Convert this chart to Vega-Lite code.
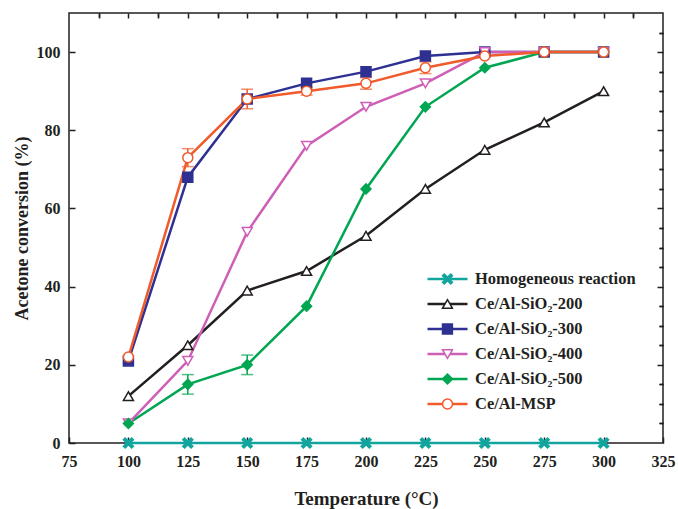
{
  "$schema": "https://vega.github.io/schema/vega-lite/v6.json",
  "width": 594,
  "height": 430,
  "autosize": {"type": "none"},
  "padding": {"left": 69, "top": 13, "right": 15, "bottom": 66},
  "background": "white",
  "datasets": {
    "conv": [
      {"series": "Homogeneous reaction", "t": 100, "v": 0},
      {"series": "Homogeneous reaction", "t": 125, "v": 0},
      {"series": "Homogeneous reaction", "t": 150, "v": 0},
      {"series": "Homogeneous reaction", "t": 175, "v": 0},
      {"series": "Homogeneous reaction", "t": 200, "v": 0},
      {"series": "Homogeneous reaction", "t": 225, "v": 0},
      {"series": "Homogeneous reaction", "t": 250, "v": 0},
      {"series": "Homogeneous reaction", "t": 275, "v": 0},
      {"series": "Homogeneous reaction", "t": 300, "v": 0},
      {"series": "Ce/Al-SiO₂-200", "t": 100, "v": 12},
      {"series": "Ce/Al-SiO₂-200", "t": 125, "v": 25},
      {"series": "Ce/Al-SiO₂-200", "t": 150, "v": 39},
      {"series": "Ce/Al-SiO₂-200", "t": 175, "v": 44},
      {"series": "Ce/Al-SiO₂-200", "t": 200, "v": 53},
      {"series": "Ce/Al-SiO₂-200", "t": 225, "v": 65},
      {"series": "Ce/Al-SiO₂-200", "t": 250, "v": 75},
      {"series": "Ce/Al-SiO₂-200", "t": 275, "v": 82},
      {"series": "Ce/Al-SiO₂-200", "t": 300, "v": 90},
      {"series": "Ce/Al-SiO₂-300", "t": 100, "v": 21},
      {"series": "Ce/Al-SiO₂-300", "t": 125, "v": 68},
      {"series": "Ce/Al-SiO₂-300", "t": 150, "v": 88},
      {"series": "Ce/Al-SiO₂-300", "t": 175, "v": 92},
      {"series": "Ce/Al-SiO₂-300", "t": 200, "v": 95},
      {"series": "Ce/Al-SiO₂-300", "t": 225, "v": 99},
      {"series": "Ce/Al-SiO₂-300", "t": 250, "v": 100},
      {"series": "Ce/Al-SiO₂-300", "t": 275, "v": 100},
      {"series": "Ce/Al-SiO₂-300", "t": 300, "v": 100},
      {"series": "Ce/Al-SiO₂-400", "t": 100, "v": 5},
      {"series": "Ce/Al-SiO₂-400", "t": 125, "v": 21},
      {"series": "Ce/Al-SiO₂-400", "t": 150, "v": 54},
      {"series": "Ce/Al-SiO₂-400", "t": 175, "v": 76},
      {"series": "Ce/Al-SiO₂-400", "t": 200, "v": 86},
      {"series": "Ce/Al-SiO₂-400", "t": 225, "v": 92},
      {"series": "Ce/Al-SiO₂-400", "t": 250, "v": 100},
      {"series": "Ce/Al-SiO₂-400", "t": 275, "v": 100},
      {"series": "Ce/Al-SiO₂-400", "t": 300, "v": 100},
      {"series": "Ce/Al-SiO₂-500", "t": 100, "v": 5},
      {"series": "Ce/Al-SiO₂-500", "t": 125, "v": 15},
      {"series": "Ce/Al-SiO₂-500", "t": 150, "v": 20},
      {"series": "Ce/Al-SiO₂-500", "t": 175, "v": 35},
      {"series": "Ce/Al-SiO₂-500", "t": 200, "v": 65},
      {"series": "Ce/Al-SiO₂-500", "t": 225, "v": 86},
      {"series": "Ce/Al-SiO₂-500", "t": 250, "v": 96},
      {"series": "Ce/Al-SiO₂-500", "t": 275, "v": 100},
      {"series": "Ce/Al-SiO₂-500", "t": 300, "v": 100},
      {"series": "Ce/Al-MSP", "t": 100, "v": 22},
      {"series": "Ce/Al-MSP", "t": 125, "v": 73},
      {"series": "Ce/Al-MSP", "t": 150, "v": 88},
      {"series": "Ce/Al-MSP", "t": 175, "v": 90},
      {"series": "Ce/Al-MSP", "t": 200, "v": 92},
      {"series": "Ce/Al-MSP", "t": 225, "v": 96},
      {"series": "Ce/Al-MSP", "t": 250, "v": 99},
      {"series": "Ce/Al-MSP", "t": 275, "v": 100},
      {"series": "Ce/Al-MSP", "t": 300, "v": 100}
    ],
    "err": [
      {"series": "Ce/Al-SiO₂-500", "t": 125, "lo": 12.5, "hi": 17.5},
      {"series": "Ce/Al-SiO₂-500", "t": 150, "lo": 17.5, "hi": 22.5},
      {"series": "Ce/Al-MSP", "t": 125, "lo": 70.7, "hi": 75.3},
      {"series": "Ce/Al-MSP", "t": 150, "lo": 85.5, "hi": 90.5},
      {"series": "Ce/Al-MSP", "t": 175, "lo": 89, "hi": 91},
      {"series": "Ce/Al-MSP", "t": 200, "lo": 90.5, "hi": 93.5},
      {"series": "Ce/Al-MSP", "t": 225, "lo": 94.5, "hi": 97.5}
    ]
  },
  "resolve": {
    "scale": {"stroke": "independent", "fill": "independent", "shape": "independent", "color": "independent"},
    "axis": {"x": "independent", "y": "independent"},
    "legend": {"stroke": "independent", "fill": "independent", "shape": "independent"}
  },
  "layer": [
    {
      "data": {"name": "conv"},
      "mark": {"type": "line", "strokeWidth": 2.5},
      "encoding": {
        "x": {"field": "t", "type": "quantitative", "scale": {"domain": [75, 325], "nice": false, "zero": false},
          "axis": {"values": [75, 100, 125, 150, 175, 200, 225, 250, 275, 300, 325], "tickSize": -6, "labelPadding": 16, "title": "Temperature (°C)", "titlePadding": 20, "titleFontSize": 19, "labelFlush": false, "labelOverlap": false}},
        "y": {"field": "v", "type": "quantitative", "scale": {"domain": [0, 110], "nice": false},
          "axis": {"values": [0, 20, 40, 60, 80, 100], "tickSize": -6, "labelPadding": 15, "title": "Acetone conversion (%)", "titlePadding": 5, "labelFlush": false, "labelOverlap": false}},
        "stroke": {"field": "series", "type": "nominal",
          "scale": {"domain": ["Homogeneous reaction", "Ce/Al-SiO₂-200", "Ce/Al-SiO₂-300", "Ce/Al-SiO₂-400", "Ce/Al-SiO₂-500", "Ce/Al-MSP"],
                    "range": ["#12A59E", "#231F20", "#2E3192", "#CF5FB6", "#00A651", "#F15A2B"]},
          "legend": {"orient": "none", "legendX": 357, "legendY": 256, "title": null, "symbolType": "stroke", "symbolSize": 1600, "symbolStrokeWidth": 2.5,
            "labelFont": "Liberation Serif", "labelFontWeight": "bold", "labelFontSize": 16.5, "labelColor": "#231F20", "labelOffset": 6, "labelLimit": 300,
            "clipHeight": 20, "rowPadding": 5, "padding": 0}}
      }
    },
    {
      "data": {"name": "err"},
      "mark": {"type": "errorbar", "ticks": {"size": 12}, "thickness": 1.5},
      "encoding": {
        "x": {"field": "t", "type": "quantitative", "axis": null},
        "y": {"field": "lo", "type": "quantitative", "axis": null, "title": null},
        "y2": {"field": "hi"},
        "color": {"field": "series", "type": "nominal",
          "scale": {"domain": ["Homogeneous reaction", "Ce/Al-SiO₂-200", "Ce/Al-SiO₂-300", "Ce/Al-SiO₂-400", "Ce/Al-SiO₂-500", "Ce/Al-MSP"],
                    "range": ["#12A59E", "#231F20", "#2E3192", "#CF5FB6", "#00A651", "#F15A2B"]},
          "legend": null}
      }
    },
    {
      "data": {"name": "conv"},
      "mark": {"type": "point", "filled": true, "size": 100, "strokeWidth": 1.5, "opacity": 1},
      "encoding": {
        "x": {"field": "t", "type": "quantitative",
          "axis": {"values": [87.5, 112.5, 137.5, 162.5, 187.5, 212.5, 237.5, 262.5, 287.5, 312.5], "tickSize": -4, "labels": false, "title": null}},
        "y": {"field": "v", "type": "quantitative",
          "axis": {"values": [5, 10, 15, 25, 30, 35, 45, 50, 55, 65, 70, 75, 85, 90, 95, 105], "tickSize": -4, "labels": false, "title": null}},
        "shape": {"field": "series", "type": "nominal",
          "scale": {"domain": ["Homogeneous reaction", "Ce/Al-SiO₂-200", "Ce/Al-SiO₂-300", "Ce/Al-SiO₂-400", "Ce/Al-SiO₂-500", "Ce/Al-MSP"],
                    "range": ["M0,-0.35L0.65,-1L1,-0.65L0.35,0L1,0.65L0.65,1L0,0.35L-0.65,1L-1,0.65L-0.35,0L-1,-0.65L-0.65,-1Z", "triangle-up", "square", "triangle-down", "diamond", "circle"]},
          "legend": {"orient": "none", "legendX": 357, "legendY": 256, "title": null, "symbolSize": 100, "symbolStrokeWidth": 1.5, "symbolOffset": 15.5,
            "labelExpr": "''", "labelFontSize": 1, "labelOffset": 0,
            "clipHeight": 20, "rowPadding": 5, "padding": 0}},
        "fill": {"field": "series", "type": "nominal",
          "scale": {"domain": ["Homogeneous reaction", "Ce/Al-SiO₂-200", "Ce/Al-SiO₂-300", "Ce/Al-SiO₂-400", "Ce/Al-SiO₂-500", "Ce/Al-MSP"],
                    "range": ["#12A59E", "#FFFFFF", "#2E3192", "#FFFFFF", "#00A651", "#FFFFFF"]},
          "legend": {"orient": "none", "legendX": 357, "legendY": 256, "title": null, "symbolSize": 100, "symbolStrokeWidth": 1.5, "symbolOffset": 15.5,
            "labelExpr": "''", "labelFontSize": 1, "labelOffset": 0,
            "clipHeight": 20, "rowPadding": 5, "padding": 0}},
        "stroke": {"field": "series", "type": "nominal",
          "scale": {"domain": ["Homogeneous reaction", "Ce/Al-SiO₂-200", "Ce/Al-SiO₂-300", "Ce/Al-SiO₂-400", "Ce/Al-SiO₂-500", "Ce/Al-MSP"],
                    "range": ["#12A59E", "#231F20", "#2E3192", "#CF5FB6", "#00A651", "#F15A2B"]},
          "legend": {"orient": "none", "legendX": 357, "legendY": 256, "title": null, "symbolSize": 100, "symbolStrokeWidth": 1.5, "symbolOffset": 15.5,
            "labelExpr": "''", "labelFontSize": 1, "labelOffset": 0,
            "clipHeight": 20, "rowPadding": 5, "padding": 0}}
      }
    },
    {
      "data": {"name": "conv"},
      "mark": {"type": "point", "opacity": 0},
      "encoding": {
        "x": {"field": "t", "type": "quantitative",
          "axis": {"orient": "top", "values": [87.5, 100, 112.5, 125, 137.5, 150, 162.5, 175, 187.5, 200, 212.5, 225, 237.5, 250, 262.5, 275, 287.5, 300, 312.5], "tickSize": -5, "labels": false, "title": null}},
        "y": {"field": "v", "type": "quantitative",
          "axis": {"orient": "right", "values": [20, 40, 60, 80, 100], "tickSize": -6, "labels": false, "title": null}}
      }
    },
    {
      "data": {"name": "conv"},
      "mark": {"type": "point", "opacity": 0},
      "encoding": {
        "x": {"field": "t", "type": "quantitative", "axis": null},
        "y": {"field": "v", "type": "quantitative",
          "axis": {"orient": "right", "values": [5, 10, 15, 25, 30, 35, 45, 50, 55, 65, 70, 75, 85, 90, 95, 105], "tickSize": -4, "labels": false, "title": null}}
      }
    }
  ],
  "config": {
    "view": {"stroke": "#231F20", "strokeWidth": 1.5},
    "axis": {"domain": false, "grid": false, "tickColor": "#231F20", "tickWidth": 1.5,
      "labelFont": "Liberation Serif", "labelFontWeight": "bold", "labelFontSize": 16, "labelColor": "#231F20",
      "titleFont": "Liberation Serif", "titleFontWeight": "bold", "titleFontSize": 18, "titleColor": "#231F20"}
  }
}
